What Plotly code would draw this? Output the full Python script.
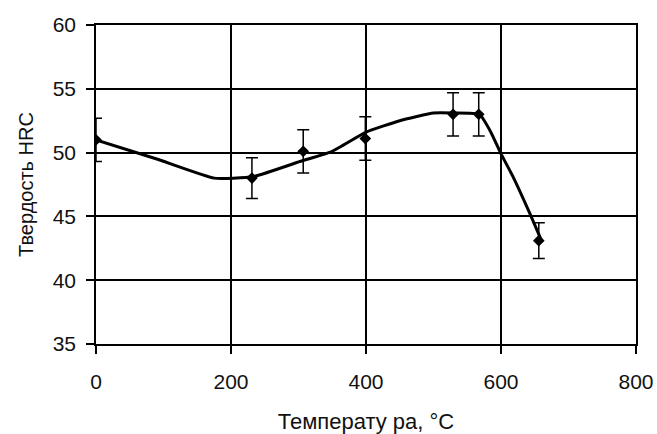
import plotly.graph_objects as go

# Measured points
temperature = [0, 231, 307, 399, 529, 567, 656]
hardness = [51.0, 48.0, 50.1, 51.1, 53.0, 53.0, 43.1]
hardness_err = [1.7, 1.6, 1.7, 1.7, 1.7, 1.7, 1.4]

# Smoothed trend line as drawn in the picture
trend_temp = [0, 90, 175, 232, 302, 350, 400, 450, 500, 530, 568, 585, 600, 617, 643, 660]
trend_hrc = [51.0, 49.5, 48.0, 48.1, 49.3, 50.1, 51.6, 52.5, 53.1, 53.1, 53.0, 51.6, 49.9, 48.2, 45.2, 43.1]

x_ticks = [0, 200, 400, 600, 800]
y_ticks = [35, 40, 45, 50, 55, 60]

FONT = "Liberation Sans, Arial, sans-serif"

fig = go.Figure()
fig.add_trace(go.Scatter(
    x=trend_temp, y=trend_hrc, mode="lines",
    line=dict(color="black", width=3, shape="spline", smoothing=0.4),
    hoverinfo="skip", showlegend=False,
))
fig.add_trace(go.Scatter(
    x=temperature, y=hardness, mode="markers",
    marker=dict(symbol="diamond", size=9, color="black"),
    error_y=dict(type="data", array=hardness_err, visible=True,
                 color="black", thickness=1.5, width=6),
    showlegend=False,
))

fig.update_layout(
    width=657, height=434,
    margin=dict(l=96, r=21, t=25, b=90),
    paper_bgcolor="white", plot_bgcolor="white",
    font=dict(family=FONT, color="#111111", size=21),
)
fig.update_xaxes(
    range=[0, 800], tickvals=x_ticks, ticktext=[str(v) for v in x_ticks],
    showgrid=True, gridcolor="black", gridwidth=1.5,
    showline=True, linecolor="black", linewidth=1.5, mirror=True,
    ticks="outside", ticklen=8, tickcolor="black", tickwidth=1.5,
    zeroline=False, tickfont=dict(size=21), ticklabelstandoff=10,
    automargin=False,
    title=dict(text="Температу ра, °C", font=dict(size=22, color="#111111"), standoff=23),
)
fig.update_yaxes(
    range=[35, 60], tickvals=y_ticks, ticktext=[str(v) for v in y_ticks],
    showgrid=True, gridcolor="black", gridwidth=1.5,
    showline=True, linecolor="black", linewidth=1.5, mirror=True,
    ticks="outside", ticklen=8, tickcolor="black", tickwidth=1.5,
    zeroline=False, tickfont=dict(size=21), ticklabelstandoff=6,
    automargin=False,
    title=dict(text="Твердость HRC", font=dict(size=20, color="#111111"), standoff=14),
)

fig.write_html("out.html", config={"displayModeBar": False},
               post_script="document.body.style.margin='0';")
